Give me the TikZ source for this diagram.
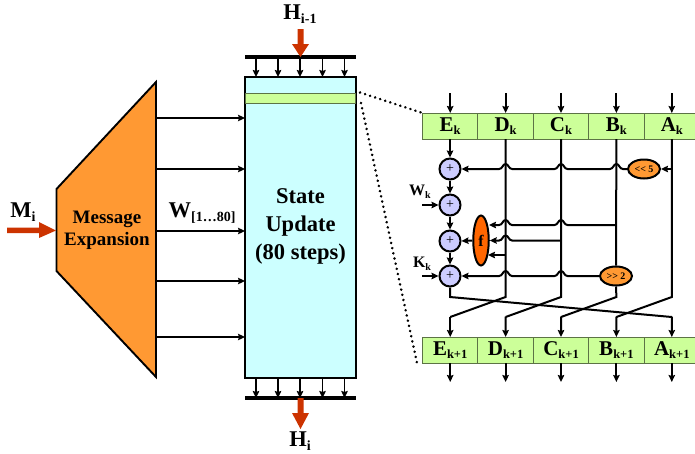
\documentclass[tikz,border=0pt]{standalone}
\usepackage{fontspec}
\setmainfont{Liberation Serif}
\usetikzlibrary{arrows.meta,shapes.geometric}
\definecolor{orangeA}{RGB}{255,153,51}
\definecolor{orangeB}{RGB}{255,102,0}
\definecolor{redA}{RGB}{204,51,0}
\definecolor{cyanA}{RGB}{204,255,255}
\definecolor{greenA}{RGB}{204,255,153}
\definecolor{violetA}{RGB}{204,204,255}
\newcommand{\regl}[2]{{\fontsize{21}{21}\selectfont\bfseries #1\raisebox{-3pt}{\fontsize{12.5}{12.5}\selectfont\bfseries #2}}}
\newcommand{\biglab}[2]{{\fontsize{22.5}{22.5}\selectfont\bfseries #1\raisebox{-3.5pt}{\fontsize{14}{14}\selectfont\bfseries #2}}}
\newcommand{\smalllab}[2]{{\fontsize{16}{16}\selectfont\bfseries #1\raisebox{-2.5pt}{\fontsize{10}{10}\selectfont\bfseries #2}}}
\newcommand{\hopl}[2]{-- (#1+6.5,#2) .. controls (#1+3,#2) and (#1+3,#2-5) .. (#1,#2-5) .. controls (#1-3,#2-5) and (#1-3,#2) .. (#1-6.5,#2)}
\tikzset{
 x=1pt,y=-1pt,
 tip/.style={-{Stealth[length=7pt,width=6.5pt,inset=1pt]}},
 thinwire/.style={line width=1.6pt,tip},
 wire/.style={line width=2pt,black},
 awire/.style={wire,tip},
 reg/.style={draw=black!55!greenA,fill=greenA,line width=1pt,minimum width=55.4pt,minimum height=26pt,inner sep=0pt,outer sep=0pt},
 adder/.style={circle,draw=black,fill=violetA,line width=2pt,minimum size=21pt,inner sep=0pt,font=\fontsize{14}{14}\selectfont},
 rot/.style={ellipse,draw=black,fill=orangeA,line width=2pt,minimum width=32pt,minimum height=19pt,inner sep=0pt,font=\fontsize{10}{10}\selectfont\bfseries},
 dotline/.style={line width=2.7pt,dash pattern=on 0.1pt off 5.2pt,line cap=round},
 lbl/.style={inner sep=0pt,font=\bfseries},
}
\begin{document}
\begin{tikzpicture}
\useasboundingbox (0,0) rectangle (695,453);
% message expansion
\draw[fill=orangeA,line width=1.9pt,line join=miter] (56.5,189) -- (156,82) -- (156,377) -- (56.5,271) -- cycle;
\node[lbl,align=center,font=\fontsize{19}{22}\selectfont\bfseries] (msg) at (107,230) {Message\\Expansion};
% state box
\node[draw=black,fill=cyanA,line width=2pt,minimum width=111pt,minimum height=301pt,inner sep=0pt,outer sep=0pt] (state) at (300.5,227.5) {};
\node[reg,minimum width=110pt,minimum height=10pt] (band) at (300.5,98) {};
\node[lbl,align=center,font=\fontsize{22.5}{28}\selectfont\bfseries] (stl) at (300.5,226) {State\\Update\\(80 steps)};
% W arrows
\foreach \y in {118,169,231,281,337}
  \draw[thinwire,line width=1.2pt] (156,\y) -- (state.west |- 0,\y);
% top and bottom bars
\draw[line width=3.6pt] (245,57) -- (356,57);
\draw[line width=3.6pt] (245,398) -- (356,398);
\foreach \x in {256,278,300,322.5,344.5}{
  \draw[thinwire] (\x,57) -- (\x,77);
  \draw[thinwire] (\x,378) -- (\x,398);
}
% red arrows
\fill[redA] (297.5,29) -- (303.5,29) -- (303.5,44) -- (309,44) -- (300.5,57) -- (292,44) -- (297.5,44) -- cycle;
\fill[redA] (297.5,398) -- (303.5,398) -- (303.5,413) -- (309,413) -- (300.5,429) -- (292,413) -- (297.5,413) -- cycle;
\fill[redA] (7,227.5) -- (39,227.5) -- (39,222) -- (56,230.5) -- (39,238) -- (39,233) -- (7,233) -- cycle;
\node[lbl] (h0) at (300,14) {\biglab{H}{i-1}};
\node[lbl] (h1) at (300,441) {\biglab{H}{i}};
\node[lbl] (mi) at (23,212) {\biglab{M}{i}};
\node[lbl] (w) at (202,213) {\biglab{W}{[1…80]}};
% registers
\foreach \n/\t [count=\i from 0] in {e/E,d/D,c/C,b/B,a/A}{
  \node[reg] (\n0) at (450.2+55.4*\i,126) {\regl{\t}{k}};
  \node[reg] (\n1) at (450.2+55.4*\i,350) {\regl{\t}{k+1}};
  \coordinate (\n t) at (450.2+55.4*\i,93);
  \coordinate (\n b) at (450.2+55.4*\i,382);
  \draw[awire] (\n t) -- (\n0.north);
  \draw[awire] (\n1.south) -- (\n b);
}
% adders and ellipses
\node[adder] (p1) at (450,169) {+};
\node[adder] (p2) at (450,205) {+};
\node[adder] (p3) at (450,241) {+};
\node[adder] (p4) at (450,276) {+};
\node[rot] (r5) at (644,169) {<{}< 5};
\node[rot] (r2) at (616,276) {>{}> 2};
\node[ellipse,draw=black,fill=orangeB,line width=2pt,minimum width=15.5pt,minimum height=50pt,inner sep=0pt,font=\fontsize{16}{16}\selectfont\bfseries] (f) at (481,240.5) {f};
\node[lbl] (wk) at (420,192) {\smalllab{W}{k}};
\node[lbl] (kk) at (422,264) {\smalllab{K}{k}};
\coordinate (win) at (422,205);
\coordinate (kin) at (422,276);
% vertical chain
\draw[awire] (e0.south -| p1) -- (p1);
\draw[awire] (p1) -- (p2);
\draw[awire] (p2) -- (p3);
\draw[awire] (p3) -- (p4);
\draw[awire] (win) -- (p2);
\draw[awire] (kin) -- (p4);
% cross over
\draw[wire] (a0.south) -- (671.8,297) -- (616.4,317);
\draw[awire] (616.4,316.6) -- (b1.north);
\draw[wire] (d0.south) -- (505.6,297) -- (450.2,317);
\draw[awire] (450.2,316.6) -- (e1.north);
\draw[wire] (c0.south) -- (561,297) -- (505.6,317);
\draw[awire] (505.6,316.6) -- (d1.north);
\draw[wire] (b0.south) -- (r2.north);
\draw[wire] (r2.south) -- (616.4,297) -- (561,317);
\draw[awire] (561,316.6) -- (c1.north);
\draw[wire] (p4.south) -- (450,297) -- (671.8,317);
\draw[awire] (671.8,316.6) -- (a1.north);
% horizontal wires with hops
\draw[awire] (671.8,169) -- (r5.east);
\draw[awire] (r5.west) \hopl{616.4}{169} \hopl{561}{169} \hopl{505.6}{169} -- (p1.east);
\draw[awire] (616.4,225) \hopl{561}{225} \hopl{505.6}{225} -- (489,225);
\draw[awire] (561,240.5) \hopl{505.6}{240.5} -- (f.east);
\draw[awire] (505.6,255) -- (488,255);
\draw[awire] (f.west) -- (p3.east);
\draw[awire] (r2.west) \hopl{561}{276} \hopl{505.6}{276} -- (p4.east);
% zoom lines
\draw[dotline] (360,92.5) -- (e0.north west);
\draw[dotline] (361,103) -- (417,363);
\end{tikzpicture}
\end{document}
